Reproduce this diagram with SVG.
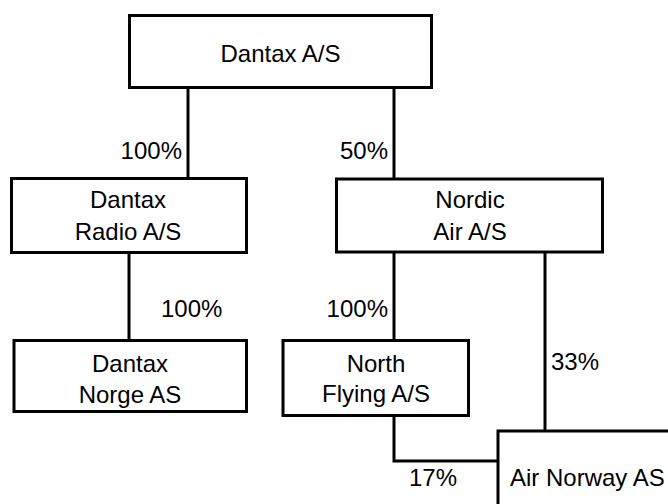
<svg xmlns="http://www.w3.org/2000/svg" width="668" height="504" viewBox="0 0 668 504">
<style>
.box{fill:#fff;stroke:#000;stroke-width:3}
.ln{fill:none;stroke:#000;stroke-width:3}
text{font-family:"Liberation Sans",Arial,Helvetica,sans-serif;font-size:24px;fill:#000}
.c{text-anchor:middle}
.e{text-anchor:end}
</style>
<rect width="668" height="504" fill="#fff"/>
<g id="connectors">
<line class="ln" x1="188" y1="88" x2="188" y2="179"/>
<line class="ln" x1="394" y1="88" x2="394" y2="179"/>
<line class="ln" x1="129" y1="252" x2="129" y2="341"/>
<line class="ln" x1="394" y1="252" x2="394" y2="341"/>
<line class="ln" x1="545" y1="252" x2="545" y2="431"/>
<polyline class="ln" points="394,415 394,461 498,461"/>
<text class="e" x="182" y="159">100%</text>
<text class="e" x="388" y="159">50%</text>
<text x="161" y="317">100%</text>
<text class="e" x="388" y="317">100%</text>
<text x="551" y="370">33%</text>
<text x="409" y="486">17%</text>
</g>
<g id="dantax-as">
<rect class="box" x="129.5" y="15.5" width="302" height="72"/>
<text class="c" x="280.5" y="62">Dantax A/S</text>
</g>
<g id="dantax-radio">
<rect class="box" x="11.5" y="178.5" width="235" height="74"/>
<text class="c" x="128" y="208">Dantax</text>
<text class="c" x="128" y="240">Radio A/S</text>
</g>
<g id="nordic-air">
<rect class="box" x="336.5" y="179" width="266" height="73"/>
<text class="c" x="470" y="208">Nordic</text>
<text class="c" x="470" y="240">Air A/S</text>
</g>
<g id="dantax-norge">
<rect class="box" x="14" y="340.5" width="232.5" height="71"/>
<text class="c" x="130" y="372">Dantax</text>
<text class="c" x="130" y="403">Norge AS</text>
</g>
<g id="north-flying">
<rect class="box" x="283" y="340.5" width="185.5" height="75"/>
<text class="c" x="376" y="372">North</text>
<text class="c" x="376" y="402">Flying A/S</text>
</g>
<g id="air-norway">
<rect class="box" x="498" y="431" width="200" height="100"/>
<text x="510" y="486">Air Norway AS</text>
</g>
</svg>
